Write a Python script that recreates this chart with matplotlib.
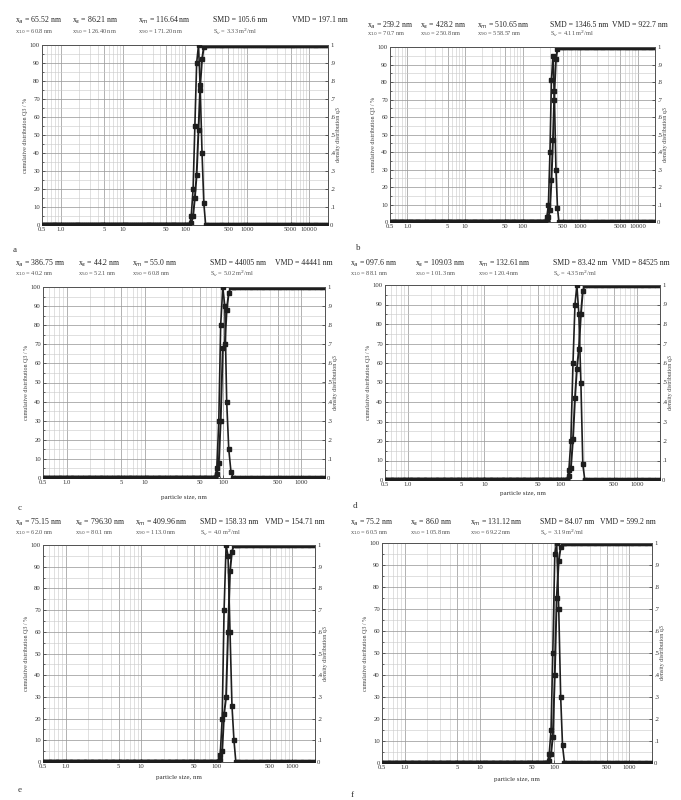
import numpy as np
import matplotlib.pyplot as plt
from matplotlib.ticker import FixedLocator, FixedFormatter, LogLocator, NullFormatter

plt.rcParams['font.family'] = ['Liberation Serif', 'DejaVu Serif']

W, H = 681, 800

# instrument size classes (nm)
size_classes = np.geomspace(0.5, 20000, 150)

letters = ['a', 'b', 'c', 'd', 'e', 'f']

# x ticks
ticks_ab = [0.5, 1, 5, 10, 50, 100, 500, 1000, 5000, 10000]
ticklab_ab = ['0.5', '1.0', '5', '10', '50', '100', '500', '1000', '5000', '10000']
ticks_cf = [0.5, 1, 5, 10, 50, 100, 500, 1000]
ticklab_cf = ['0.5', '1.0', '5', '10', '50', '100', '500', '1000']

# size classes around the peak, cumulative Q3 (%), density q3 (rel.)
a_size = [118, 126, 135, 144, 154, 165, 176, 188, 201, 215]
a_cum = [0, 1, 5, 15, 28, 53, 78, 92, 99, 100]
a_freq = [0, .05, .2, .55, .9, 1.0, .75, .4, .12, 0]

b_size = [250, 265, 282, 300, 318, 338, 359, 381, 405, 430]
b_cum = [0, 1, 3, 7, 24, 47, 75, 93, 99, 100]
b_freq = [0, .03, .1, .4, .81, .95, .7, .3, .08, 0]

c_size = [78, 83, 88, 93, 99, 105, 111, 118, 126, 134]
c_cum = [0, 2, 8, 30, 68, 70, 88, 97, 100, 100]
c_freq = [0, .05, .3, .8, 1.0, .9, .4, .15, .03, 0]

d_size = [121, 128, 136, 145, 154, 163, 173, 184, 195, 207]
d_cum = [0, 2, 6, 21, 42, 57, 67, 85, 97, 100]
d_freq = [0, .05, .2, .6, .9, 1.0, .85, .5, .08, 0]

e_size = [105, 111, 118, 125, 133, 141, 150, 159, 169, 179]
e_cum = [0, 1, 5, 22, 30, 60, 88, 97, 100, 100]
e_freq = [0, .03, .2, .7, 1.0, .95, .6, .26, .1, 0]

f_size = [80, 85, 90, 95, 101, 107, 114, 121, 128, 136]
f_cum = [0, 1, 4, 12, 40, 75, 92, 98, 100, 100]
f_freq = [0, .04, .15, .5, .95, 1.0, .7, .3, .08, 0]

sizes = [a_size, b_size, c_size, d_size, e_size, f_size]
cums = [a_cum, b_cum, c_cum, d_cum, e_cum, f_cum]
freqs = [a_freq, b_freq, c_freq, d_freq, e_freq, f_freq]

headers = [
    (['x$_a$ = 65.52 nm', 'x$_s$ = 86.21 nm', 'x$_m$ = 116.64 nm', 'SMD = 105.6 nm', 'VMD = 197.1 nm'],
     ['x$_{10}$ = 60.8 nm', 'x$_{50}$ = 126.40 nm', 'x$_{90}$ = 171.20 nm', 'S$_v$ = 3.33 m$^2$/ml']),
    (['x$_a$ = 259.2 nm', 'x$_s$ = 428.2 nm', 'x$_m$ = 510.65 nm', 'SMD = 1346.5 nm', 'VMD = 922.7 nm'],
     ['x$_{10}$ = 70.7 nm', 'x$_{50}$ = 250.8 nm', 'x$_{90}$ = 558.57 nm', 'S$_v$ = 4.11 m$^2$/ml']),
    (['x$_a$ = 386.75 nm', 'x$_s$ = 44.2 nm', 'x$_m$ = 55.0 nm', 'SMD = 44005 nm', 'VMD = 44441 nm'],
     ['x$_{10}$ = 40.2 nm', 'x$_{50}$ = 52.1 nm', 'x$_{90}$ = 60.8 nm', 'S$_v$ = 5.02 m$^2$/ml']),
    (['x$_a$ = 097.6 nm', 'x$_s$ = 109.03 nm', 'x$_m$ = 132.61 nm', 'SMD = 83.42 nm', 'VMD = 84525 nm'],
     ['x$_{10}$ = 88.1 nm', 'x$_{50}$ = 101.3 nm', 'x$_{90}$ = 120.4 nm', 'S$_v$ = 4.35 m$^2$/ml']),
    (['x$_a$ = 75.15 nm', 'x$_s$ = 796.30 nm', 'x$_m$ = 409.96 nm', 'SMD = 158.33 nm', 'VMD = 154.71 nm'],
     ['x$_{10}$ = 62.0 nm', 'x$_{50}$ = 80.1 nm', 'x$_{90}$ = 113.0 nm', 'S$_v$ = 4.0 m$^2$/ml']),
    (['x$_a$ = 75.2 nm', 'x$_s$ = 86.0 nm', 'x$_m$ = 131.12 nm', 'SMD = 84.07 nm', 'VMD = 599.2 nm'],
     ['x$_{10}$ = 60.5 nm', 'x$_{50}$ = 105.8 nm', 'x$_{90}$ = 69.22 nm', 'S$_v$ = 3.19 m$^2$/ml']),
]

# layout in pixels
ax_px = [(42, 45, 328, 225), (390, 47, 655, 222), (43, 287, 325, 478),
         (385, 285, 660, 480), (43, 545, 315, 762), (382, 543, 652, 763)]
head_y = [(20, 32), (25, 34), (263, 274), (263, 274), (522, 533), (522, 533)]
head_x = [[15, 72, 138, 213, 292], [367, 420, 477, 550, 612], [15, 78, 132, 210, 275],
          [350, 415, 478, 553, 612], [15, 75, 135, 200, 265], [350, 410, 470, 540, 600]]
letter_px = [(15, 250), (358, 248), (20, 508), (355, 506), (20, 790), (352, 795)]
xlabel_y = [None, None, 497, 493, 777, 780]


def fx(p):
    return p / W


def fy(p):
    return 1 - p / H


fig = plt.figure(figsize=(W / 100, H / 100), dpi=100)
fig.patch.set_facecolor('white')
ink = '#1e1e1e'

for i in range(6):
    x0, y0, x1, y1 = ax_px[i]
    ax = fig.add_axes([fx(x0), fy(y1), (x1 - x0) / W, (y1 - y0) / H])
    ax2 = ax.twinx()
    ax.set_xscale('log')
    if i < 2:
        ax.set_xlim(0.5, 20000)
        tv, tl = ticks_ab, ticklab_ab
    else:
        ax.set_xlim(0.5, 2000)
        tv, tl = ticks_cf, ticklab_cf
    ax.xaxis.set_major_locator(FixedLocator(tv))
    ax.xaxis.set_major_formatter(FixedFormatter(tl))
    ax.xaxis.set_minor_locator(LogLocator(base=10, subs=np.arange(2, 10)))
    ax.xaxis.set_minor_formatter(NullFormatter())
    ax.set_ylim(0, 100)
    ax.set_yticks(np.arange(0, 101, 10))
    ax.set_yticks(np.arange(0, 101, 5), minor=True)
    ax2.set_ylim(0, 1.0)
    ax2.set_yticks(np.arange(0, 1.01, 0.1))
    ax2.set_yticklabels(['0'] + ['.%d' % k for k in range(1, 10)] + ['1'])

    ax.grid(True, which='major', color='#9c9c9c', lw=0.55)
    ax.grid(True, which='minor', color='#c9c9c9', lw=0.4)
    for a_ in (ax, ax2):
        a_.tick_params(labelsize=4.8, length=2, width=0.5, pad=1.5, direction='in', colors='#333333')
        a_.tick_params(which='minor', length=1.2, width=0.4, direction='in')
        for s in a_.spines.values():
            s.set_color('#555555')
            s.set_linewidth(0.7)

    sz = sizes[i]
    below = size_classes[size_classes < sz[0]]
    above = size_classes[size_classes > sz[-1]]
    xs = np.concatenate([below, sz, above])
    cum = np.concatenate([np.zeros(len(below)), cums[i], np.full(len(above), 100.0)])
    frq = np.concatenate([np.zeros(len(below)), freqs[i], np.zeros(len(above))])
    ax.plot(xs, cum, color=ink, lw=1.4, marker='s', ms=3.0, mec=ink, mfc=ink, zorder=3)
    ax2.plot(xs, frq, color=ink, lw=1.2, marker='s', ms=2.7, mec=ink, mfc=ink, zorder=3)

    ax.set_ylabel('cumulative distribution Q3 / %', fontsize=4.3, labelpad=1, color='#444444')
    ax2.set_ylabel('density distribution q3', fontsize=4.3, labelpad=1, color='#444444')
    if xlabel_y[i] is not None:
        fig.text(fx((x0 + x1) / 2), fy(xlabel_y[i]), 'particle size, nm', fontsize=5,
                 ha='center', va='center', color='#333333')

    l1, l2 = headers[i]
    for j, t in enumerate(l1):
        fig.text(fx(head_x[i][j]), fy(head_y[i][0]), t, fontsize=5.6, ha='left', va='center',
                 color='#222222')
    for j, t in enumerate(l2):
        fig.text(fx(head_x[i][j]), fy(head_y[i][1]), t, fontsize=4.6, ha='left', va='center',
                 color='#555555')
    lx, ly = letter_px[i]
    fig.text(fx(lx), fy(ly), letters[i], fontsize=6.5, ha='center', va='center', color='#333333')

fig.savefig('out.png', dpi=100, facecolor='white')
